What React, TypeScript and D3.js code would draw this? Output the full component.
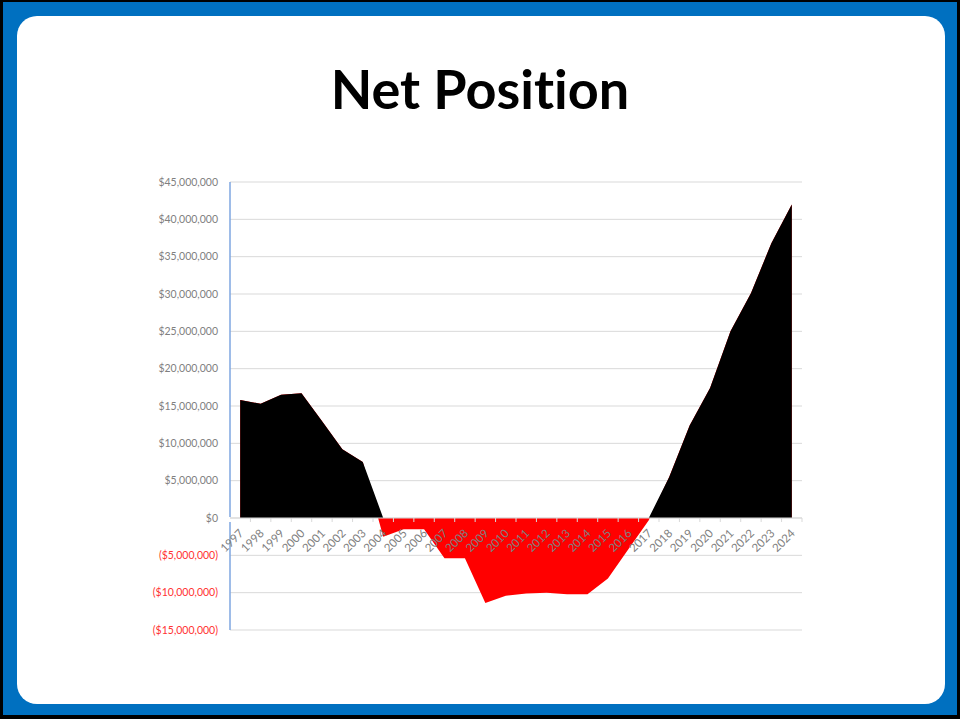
import React from "react";
import * as d3 from "d3";

const years = [
  "1997", "1998", "1999", "2000", "2001", "2002", "2003", "2004", "2005", "2006",
  "2007", "2008", "2009", "2010", "2011", "2012", "2013", "2014", "2015", "2016",
  "2017", "2018", "2019", "2020", "2021", "2022", "2023", "2024",
];

const netPosition = [
  15.8e6, 15.3e6, 16.5e6, 16.7e6, 13.0e6, 9.2e6, 7.5e6, -2.5e6, -1.5e6, -1.5e6,
  -5.4e6, -5.4e6, -11.4e6, -10.4e6, -10.1e6, -10.0e6, -10.2e6, -10.2e6, -8.1e6, -4.2e6,
  -0.3e6, 5.5e6, 12.4e6, 17.4e6, 25.0e6, 30.1e6, 36.8e6, 42.0e6,
];

const yTicks = [
  45e6, 40e6, 35e6, 30e6, 25e6, 20e6, 15e6, 10e6, 5e6, 0, -5e6, -10e6, -15e6,
];

const title = "Net Position";

const W = 960;
const H = 719;
const plotLeft = 230;
const plotRight = 802;
const plotTop = 182;
const plotBottom = 630;

const fmtNum = d3.format(",");
const fmtMoney = (v: number) =>
  v < 0 ? `($${fmtNum(-v)})` : `$${fmtNum(v)}`;

export default function App() {
  const x = d3
    .scaleBand<string>()
    .domain(years)
    .range([plotLeft, plotRight])
    .paddingInner(0)
    .paddingOuter(0);
  const cx = (y: string) => (x(y) as number) + x.bandwidth() / 2;
  const y = d3.scaleLinear().domain([-15e6, 45e6]).range([plotBottom, plotTop]);
  const y0 = y(0);

  const data = years.map((yr, i) => ({ yr, v: netPosition[i] }));

  const redArea = d3
    .area<{ yr: string; v: number }>()
    .x((d) => cx(d.yr))
    .y0(y0)
    .y1((d) => y(d.v));
  const blackArea = d3
    .area<{ yr: string; v: number }>()
    .x((d) => cx(d.yr))
    .y0(y0)
    .y1((d) => y(Math.max(0, d.v)));

  const labelFont = "Lato, 'Open Sans', sans-serif";

  return (
    <svg
      width={W}
      height={H}
      viewBox={`0 0 ${W} ${H}`}
      style={{ position: "absolute", left: 0, top: 0, display: "block" }}
    >
      <rect x={0} y={0} width={W} height={H} fill="#000" />
      <rect x={3} y={2} width={W - 6} height={H - 6} fill="#0070c0" />
      <rect x={17} y={16} width={928} height={688} rx={20} ry={20} fill="#fff" />

      <text
        x={480}
        y={109}
        textAnchor="middle"
        fontFamily={labelFont}
        fontWeight={700}
        fontSize={54}
        fill="#000"
        style={{ fontVariantLigatures: "none" }}
      >
        {title}
      </text>

      {/* gridlines */}
      {yTicks.map((t) => (
        <line
          key={`g${t}`}
          x1={plotLeft}
          x2={plotRight}
          y1={y(t)}
          y2={y(t)}
          stroke="#d9d9d9"
          strokeWidth={1}
        />
      ))}

      {/* areas */}
      <path d={redArea(data) || ""} fill="#ff0000" />
      <path d={blackArea(data) || ""} fill="#000000" />

      {/* zero axis + ticks */}
      <line x1={plotLeft} x2={plotRight} y1={y0} y2={y0} stroke="#d9d9d9" strokeWidth={1} />
      {years.map((yr) => (
        <line
          key={`t${yr}`}
          x1={(x(yr) as number) + x.bandwidth()}
          x2={(x(yr) as number) + x.bandwidth()}
          y1={y0}
          y2={y0 + 4}
          stroke="#d9d9d9"
          strokeWidth={1}
        />
      ))}

      {/* y axis line */}
      <line x1={plotLeft} x2={plotLeft} y1={plotTop} y2={y0 - 1} stroke="#7ea6e0" strokeWidth={1.5} />
      <line x1={plotLeft} x2={plotLeft} y1={y0 + 4} y2={plotBottom} stroke="#7ea6e0" strokeWidth={1.5} />

      {/* y tick labels */}
      {yTicks.map((t) => (
        <text
          key={`yl${t}`}
          x={218}
          y={y(t)}
          dy="0.35em"
          textAnchor="end"
          fontFamily={labelFont}
          fontSize={10.5}
          fill={t < 0 ? "#ff3333" : "#7f7f7f"}
        >
          {fmtMoney(t)}
        </text>
      ))}

      {/* x tick labels */}
      {years.map((yr) => (
        <text
          key={`xl${yr}`}
          transform={`translate(${cx(yr) + 4},${y0 + 16}) rotate(-45)`}
          textAnchor="end"
          fontFamily={labelFont}
          fontSize={11.5}
          fill="#7f7f7f"
        >
          {yr}
        </text>
      ))}
    </svg>
  );
}
